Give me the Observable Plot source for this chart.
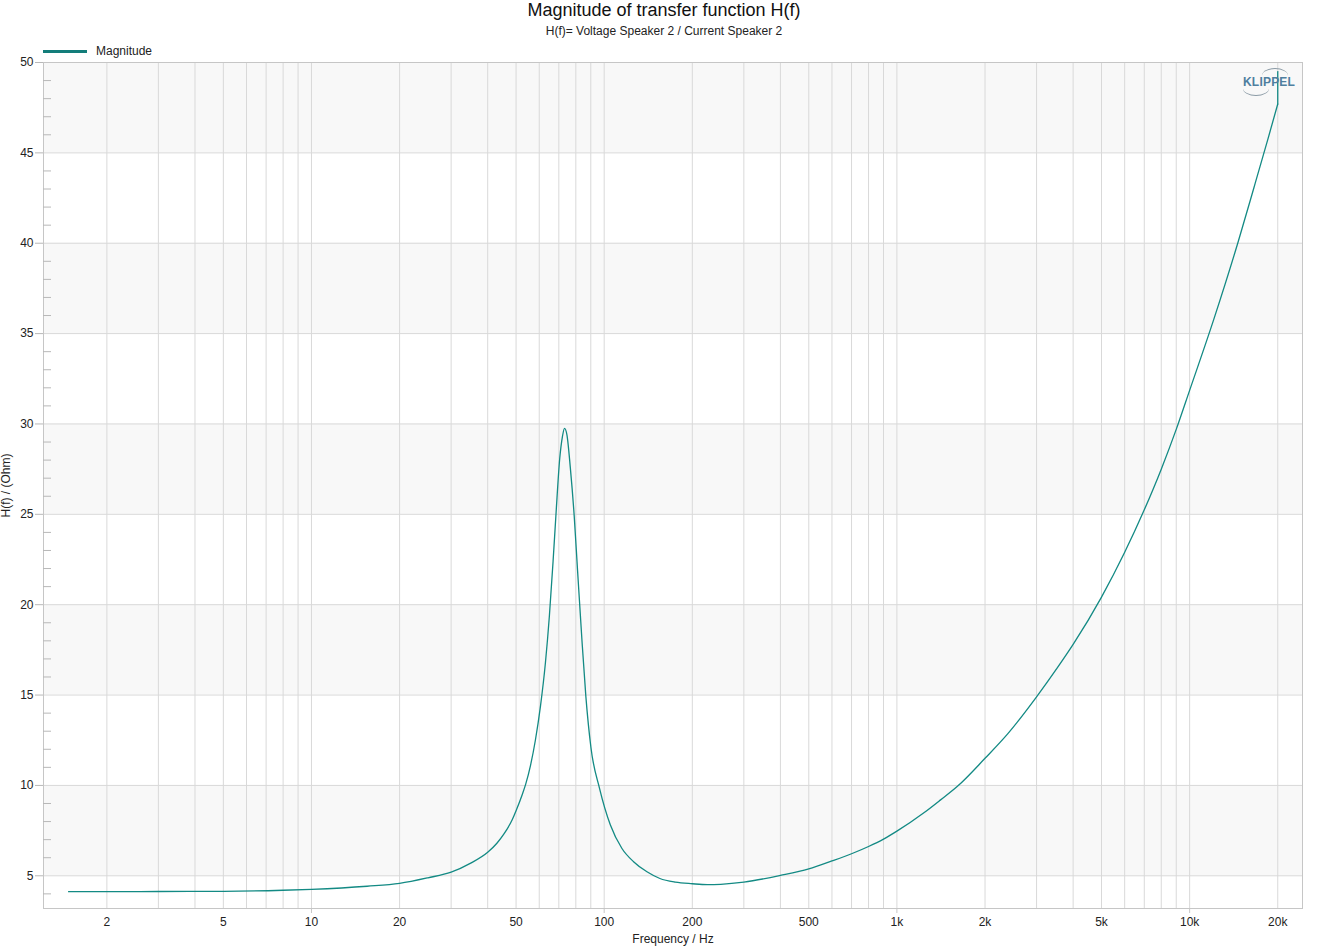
<!DOCTYPE html>
<html>
<head>
<meta charset="utf-8">
<script src="https://cdn.jsdelivr.net/npm/d3@7"></script>
<script src="https://cdn.jsdelivr.net/npm/@observablehq/plot@0.6"></script>
<style>
  html, body { margin: 0; padding: 0; background: #fff; }
  body { font-family: "Liberation Sans", Arial, sans-serif; }
  #wrap { position: relative; width: 1328px; height: 948px; }
  #title { position: absolute; left: 0; width: 1328px; top: 0px; text-align: center; font-size: 18px; color: #111; }
  #subtitle { position: absolute; left: 0; width: 1328px; top: 24px; text-align: center; font-size: 12px; color: #222; }
  #legend { position: absolute; left: 43px; top: 44px; font-size: 12px; color: #222; display: flex; align-items: center; }
  #legend .sw { width: 44px; height: 3px; background: #137d7a; margin-right: 9px; }
  #logo { position: absolute; left: 1240px; top: 67px; width: 58px; height: 34px; }
  #logo .txt { position: absolute; left: 3px; top: 8px; font-size: 12px; font-weight: bold; color: #4f7f9f; letter-spacing: 0.2px; }
  #logo .arcT { position: absolute; left: 22px; top: 1px; width: 26px; height: 14px; border-top: 1.5px solid #8a9aa5; border-radius: 50% 50% 0 0; }
  #logo .arcB { position: absolute; left: 3px; top: 14px; width: 26px; height: 14px; border-bottom: 1.5px solid #8a9aa5; border-radius: 0 0 50% 50%; }
  #chart { position: absolute; left: 0; top: 0; }
</style>
</head>
<body>
<div id="wrap">
  <div id="chart"></div>
  <div id="title">Magnitude of transfer function H(f)</div>
  <div id="subtitle">H(f)= Voltage Speaker 2 / Current Speaker 2</div>
  <div id="legend"><span class="sw"></span><span>Magnitude</span></div>
  <div id="logo"><span class="arcT"></span><span class="txt">KLIPPEL</span><span class="arcB"></span></div>
</div>
<script>
// Frequency (Hz) and magnitude (Ohm)
const freq = [1.48, 2, 3, 5, 8, 10, 15.5, 20, 25, 30, 35, 40, 43, 45.4, 48.5, 50, 52.5, 54, 56, 58.2, 60.6, 63, 65, 66.9, 68.5, 70.5, 72, 73.2, 74.6, 76.6, 79, 81.1, 83.9, 86.6, 90.1, 96.4, 105, 115, 126, 140, 155, 175, 200, 225, 250, 300, 400, 500, 600, 700, 800, 900, 1000, 1240, 1410, 1610, 2000, 2390, 3000, 3530, 4000, 5000, 6000, 7000, 8000, 9000, 10000, 12100, 14600, 16600, 18500, 20000];
const magnitude = [4.12, 4.12, 4.13, 4.14, 4.2, 4.25, 4.42, 4.58, 4.89, 5.2, 5.7, 6.3, 6.8, 7.3, 8.1, 8.6, 9.5, 10.1, 11.1, 12.5, 14.4, 16.8, 19.4, 22.4, 25.1, 28.1, 29.3, 29.76, 29.4, 27.6, 24.9, 21.9, 18.1, 14.9, 12.1, 9.84, 7.81, 6.51, 5.78, 5.22, 4.85, 4.65, 4.56, 4.51, 4.53, 4.65, 5.02, 5.38, 5.82, 6.22, 6.62, 7.03, 7.47, 8.5, 9.2, 9.95, 11.5, 12.85, 14.9, 16.5, 17.8, 20.42, 22.9, 25.25, 27.5, 29.7, 31.86, 35.8, 40.0, 43.1, 45.75, 47.7];
// final vertical excursion at the last frequency
const endFreq = 20000;
const endFrom = 47.7;
const endTo = 49.5;

const xTickValues = [2, 5, 10, 20, 50, 100, 200, 500, 1000, 2000, 5000, 10000, 20000];
const xTickLabels = ["2", "5", "10", "20", "50", "100", "200", "500", "1k", "2k", "5k", "10k", "20k"];
const decadeTicks = [10, 100, 1000, 10000];
const yMajor = [5, 10, 15, 20, 25, 30, 35, 40, 45, 50];
const bandStarts = [5, 15, 25, 35, 45];

const data = freq.map((f, i) => ({f, m: magnitude[i]}));
const endSeg = [{f: endFreq, m: endFrom}, {f: endFreq, m: endTo}];
const gridX = [];
for (const dec of [1, 10, 100, 1000, 10000]) for (let k = 2; k <= 10; k++) { const v = k * dec; if (v <= 20000) gridX.push(v); }
const yMinor = d3.range(4, 50).filter(v => v % 5 !== 0);
const xTicks = xTickValues.map((v, i) => ({v, label: xTickLabels[i]}));
const lineColor = "#138a84";

const chart = Plot.plot({
  width: 1328,
  height: 948,
  marginLeft: 43,
  marginRight: 26,
  marginTop: 62,
  marginBottom: 40,
  style: {fontFamily: "'Liberation Sans', Arial, sans-serif", fontSize: "12px", background: "transparent", color: "#222"},
  x: {type: "log", domain: [1.215, 24300], axis: null},
  y: {domain: [3.19, 50], axis: null},
  marks: [
    Plot.rect(bandStarts, {y1: d => d, y2: d => d + 5, fill: "#f8f8f8"}),
    Plot.ruleX(gridX, {stroke: "#d9d9d9", strokeWidth: 1}),
    Plot.ruleY(yMajor, {stroke: "#d9d9d9", strokeWidth: 1}),
    Plot.frame({stroke: "#c6c6c6"}),
    Plot.axisY(yMinor, {tickSize: 8, dx: 8, tickFormat: () => "", stroke: "#b8b8b8", label: null}),
    Plot.axisY(yMajor, {tickSize: 8, tickPadding: 2, stroke: "#b8b8b8", fill: "#222", fontSize: 12,
      label: "H(f) / (Ohm)", labelAnchor: "center", labelOffset: 42, labelArrow: "none"}),
    Plot.axisX(decadeTicks, {tickSize: 5, tickFormat: () => "", stroke: "#c6c6c6", label: null}),
    Plot.text(xTicks, {x: "v", text: "label", frameAnchor: "bottom", dy: 17, fill: "#222", fontSize: 12}),
    Plot.text(["Frequency / Hz"], {frameAnchor: "bottom", dy: 34, fill: "#222", fontSize: 12}),
    Plot.line(data, {x: "f", y: "m", stroke: lineColor, strokeWidth: 1.3, curve: "monotone-x", clip: true}),
    Plot.line(endSeg, {x: "f", y: "m", stroke: lineColor, strokeWidth: 1.3, clip: true})
  ]
});
document.getElementById("chart").appendChild(chart);
</script>
</body>
</html>
